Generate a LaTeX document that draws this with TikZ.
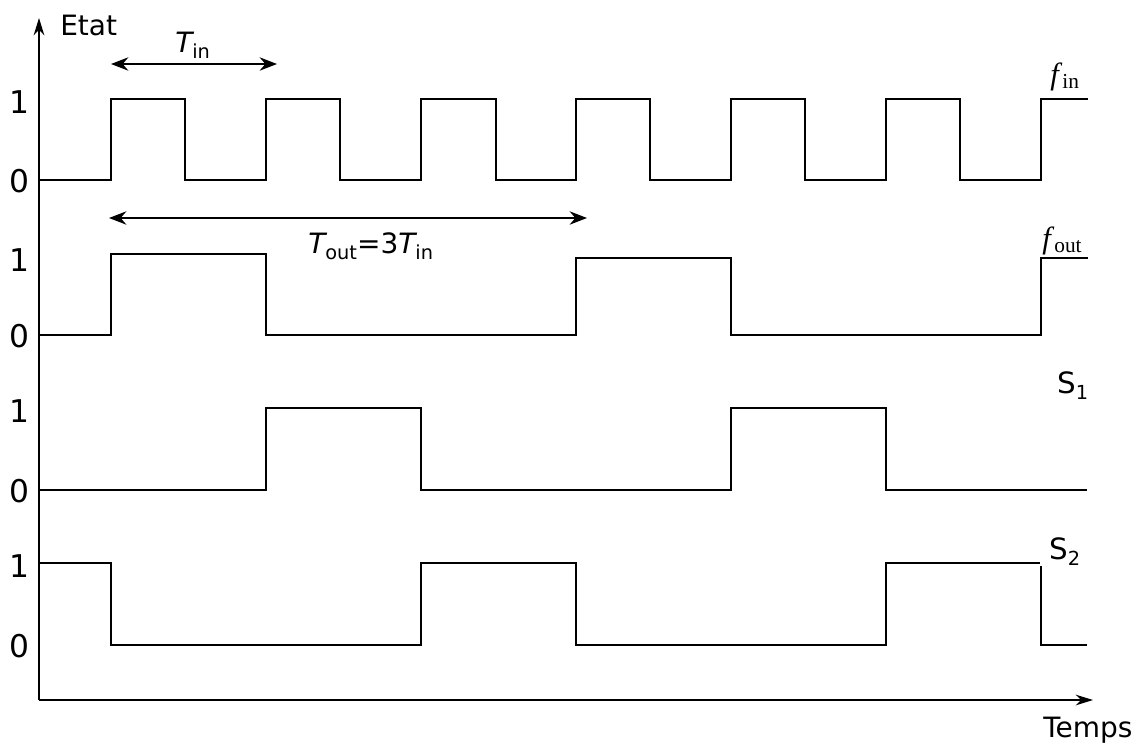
\documentclass[tikz,border=0pt]{standalone}
\usepackage{fontspec}
\setmainfont{DejaVu Sans}
\newfontfamily\timesf{Liberation Serif}
\usetikzlibrary{arrows.meta}
\newcommand{\sbs}[1]{\raisebox{-5pt}{\fontsize{14.5}{16}\selectfont #1}}
\tikzset{
  wave/.style={line width=1.7pt, line join=miter},
  axis/.style={line width=1.4pt, -{Stealth[length=13pt,width=8pt]}},
  dim/.style={line width=1.5pt, {Stealth[length=13pt,width=10pt]}-{Stealth[length=13pt,width=10pt]}},
  lvl/.style={inner sep=0pt, anchor=base, font=\fontsize{23.5}{24}\selectfont},
  lab/.style={inner sep=0pt, anchor=base west, font=\fontsize{21}{24}\selectfont},
  sig/.style={inner sep=0pt, anchor=base west, font=\timesf\fontsize{23}{24}\selectfont},
}
\begin{document}
\begin{tikzpicture}[x=0.75pt,y=-0.75pt]
\useasboundingbox (0,0) rectangle (1137,747);
% axes
\coordinate (O) at (39,700);
\coordinate (ytop) at (39,18);
\coordinate (xend) at (1093,700);
\draw[axis] (O) -- (ytop);
\draw[axis] (O) -- (xend);
\node[lab] (etat) at (60,35) {Etat};
\node[lab] (temps) at (1043,737) {Temps};
% level labels
\foreach \n/\y in {a/99,b/257,c/408,d/563}{
  \node[lvl] (one\n) at (19,\y+14) {1};
}
\foreach \n/\y in {a/180,b/335,c/490,d/645}{
  \node[lvl] (zero\n) at (19.5,\y+12) {0};
}
% f_in
\draw[wave] (39,180) -- (111,180) -- (111,99) -- (185,99) -- (185,180)
  -- (266,180) -- (266,99) -- (340,99) -- (340,180)
  -- (421,180) -- (421,99) -- (496,99) -- (496,180)
  -- (576,180) -- (576,99) -- (650,99) -- (650,180)
  -- (731,180) -- (731,99) -- (805,99) -- (805,180)
  -- (886,180) -- (886,99) -- (960,99) -- (960,180)
  -- (1041,180) -- (1041,99) -- (1088,99);
\node[sig] (fin) at (1050,84) {\itshape f\/\upshape\raisebox{-3pt}{\fontsize{16}{16}\selectfont in}};
% f_out
\draw[wave] (39,335) -- (111,335) -- (111,254) -- (266,254) -- (266,335)
  -- (576,335) -- (576,258) -- (731,258) -- (731,335)
  -- (1041,335) -- (1041,258) -- (1088,258);
\node[sig] (fout) at (1042,248) {\itshape f\/\upshape\raisebox{-3pt}{\fontsize{16}{16}\selectfont out}};
% S1
\draw[wave] (39,490) -- (266,490) -- (266,408) -- (421,408) -- (421,490)
  -- (731,490) -- (731,408) -- (886,408) -- (886,490) -- (1087,490);
\node[lab, font=\fontsize{22}{24}\selectfont] (s1) at (1057,393) {S\sbs{1}};
% S2
\draw[wave] (39,563) -- (111,563) -- (111,645) -- (421,645) -- (421,563)
  -- (576,563) -- (576,645) -- (886,645) -- (886,563) -- (1040,563);
\draw[wave] (1041,566) -- (1041,645) -- (1087,645);
\node[lab, font=\fontsize{22}{24}\selectfont] (s2) at (1049,559) {S\sbs{2}};
% dimension arrows
\coordinate (tina) at (111,64);
\coordinate (tinb) at (277,64);
\draw[dim] (tina) -- (tinb);
\node[lab] (tin) at (175,52) {\itshape T\upshape\sbs{in}};
\coordinate (touta) at (109,218);
\coordinate (toutb) at (587,218);
\draw[dim] (touta) -- (toutb);
\node[lab] (tout) at (308,253) {\itshape T\upshape\sbs{out}=3\itshape T\upshape\sbs{in}};
\end{tikzpicture}
\end{document}
